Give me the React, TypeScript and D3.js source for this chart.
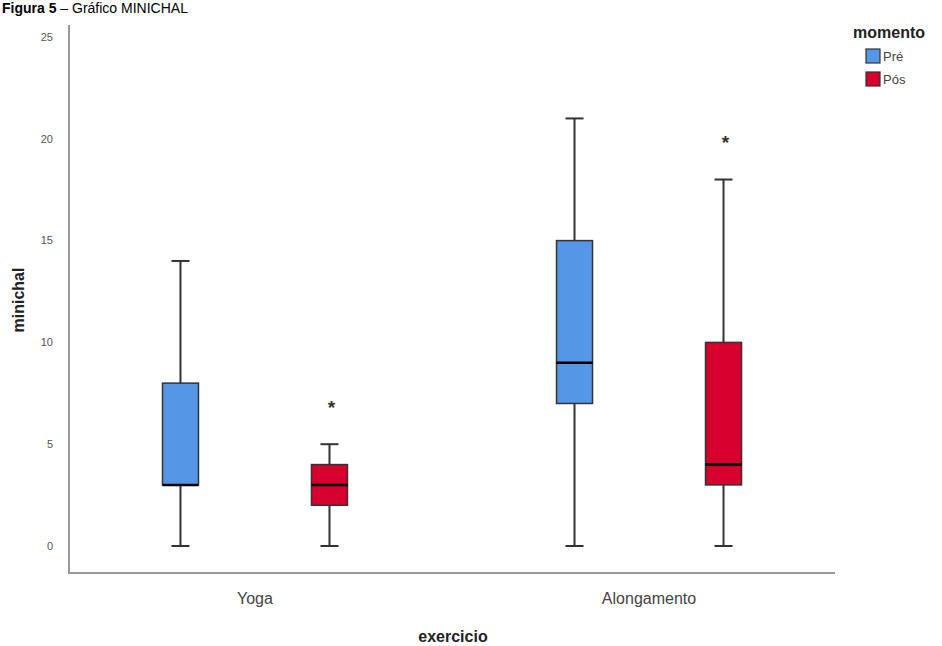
import React from "react";
import * as d3 from "d3";

const categories = ["Yoga", "Alongamento"];
const moments = ["Pré", "Pós"];
// [exercicio][momento]: min, q1, median, q3, max, outliers
const mins = [[0, 0], [0, 0]];
const q1s = [[3, 2], [7, 3]];
const medians = [[3, 3], [9, 4]];
const q3s = [[8, 4], [15, 10]];
const maxs = [[14, 5], [21, 18]];
const outliers = [[[], [7]], [[], [20]]];
const yTicks = [0, 5, 10, 15, 20, 25];
const colors = ["#5596E6", "#D6002F"];

export default function App() {
  const W = 942, H = 646;
  const left = 69, right = 835, bottom = 573;
  const y = d3.scaleLinear().domain([0, 25]).range([546, 37]);
  const x = d3.scalePoint<string>().domain(categories).range([left, right]).padding(0.472);
  const sub = d3.scalePoint<string>().domain(moments).range([-74.5, 74.5]);
  const boxW = 36, capW = 18;
  const stroke = "#333";
  const font = "Liberation Sans, Arial, sans-serif";

  return (
    <svg width={W} height={H} style={{ position: "absolute", left: 0, top: 0 }} fontFamily={font}>
      <rect width={W} height={H} fill="#fff" />
      <text x={2} y={13} fontSize={14} fill="#000">
        <tspan fontWeight="bold">Figura 5</tspan>
        <tspan> – Gráfico MINICHAL</tspan>
      </text>
      {/* axes */}
      <path d={`M${left},${25}V${bottom}H${right}`} fill="none" stroke="#999" strokeWidth={2} />
      {yTicks.map((t) => (
        <text key={t} x={left - 16} y={y(t)} dy="0.35em" textAnchor="end" fontSize={11} fill="#555">
          {t}
        </text>
      ))}
      {categories.map((c) => (
        <text key={c} x={x(c)} y={598} dy="0.35em" textAnchor="middle" fontSize={16} fill="#444">
          {c}
        </text>
      ))}
      <text x={453} y={636} dy="0.35em" textAnchor="middle" fontSize={16} fontWeight="bold" fill="#222">
        exercicio
      </text>
      <text transform={`translate(18,300) rotate(-90)`} dy="0.35em" textAnchor="middle" fontSize={16} fontWeight="bold" fill="#222">
        minichal
      </text>
      {categories.map((c, i) =>
        moments.map((m, j) => {
          const cx = (x(c) as number) + (sub(m) as number);
          return (
            <g key={c + m}>
              <line x1={cx} x2={cx} y1={y(maxs[i][j])} y2={y(mins[i][j])} stroke={stroke} strokeWidth={2} />
              <line x1={cx - capW / 2} x2={cx + capW / 2} y1={y(maxs[i][j])} y2={y(maxs[i][j])} stroke={stroke} strokeWidth={2} />
              <line x1={cx - capW / 2} x2={cx + capW / 2} y1={y(mins[i][j])} y2={y(mins[i][j])} stroke={stroke} strokeWidth={2} />
              <rect x={cx - boxW / 2} y={y(q3s[i][j])} width={boxW} height={y(q1s[i][j]) - y(q3s[i][j])} fill={colors[j]} stroke={stroke} strokeWidth={1.5} />
              <line x1={cx - boxW / 2} x2={cx + boxW / 2} y1={y(medians[i][j])} y2={y(medians[i][j])} stroke="#000" strokeWidth={2.5} />
              {outliers[i][j].map((o, k) => (
                <text key={k} x={cx + 2} y={y(o)} dy="0.55em" textAnchor="middle" fontSize={19} fill="#333" fontWeight="bold">
                  *
                </text>
              ))}
            </g>
          );
        })
      )}
      {/* legend */}
      <text x={889} y={32} dy="0.35em" textAnchor="middle" fontSize={16} fontWeight="bold" fill="#222">
        momento
      </text>
      {moments.map((m, j) => (
        <g key={m} transform={`translate(866,${49 + j * 23})`}>
          <rect width={14} height={14} fill={colors[j]} stroke={stroke} strokeWidth={1.2} />
          <text x={17} y={7} dy="0.35em" fontSize={13} fill="#444">
            {m}
          </text>
        </g>
      ))}
    </svg>
  );
}
